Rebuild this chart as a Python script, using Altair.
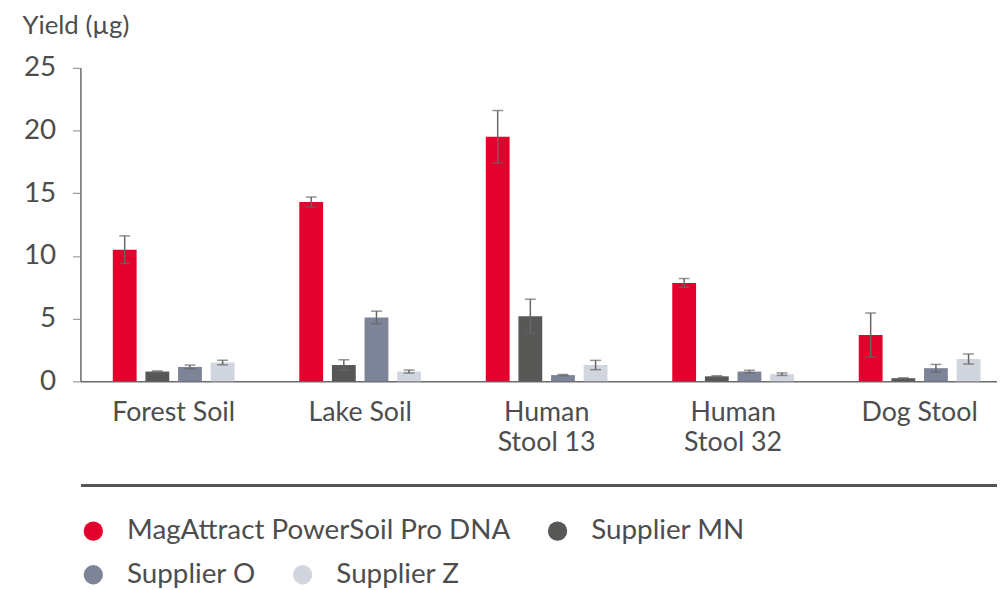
import altair as alt
import pandas as pd

categories = ["Forest Soil", "Lake Soil", "Human\nStool 13", "Human\nStool 32", "Dog Stool"]
series = ["MagAttract PowerSoil Pro DNA", "Supplier MN", "Supplier O", "Supplier Z"]
colors = ["#E3002C", "#575756", "#7E8498", "#D1D5DE"]

magattract = [10.5, 14.3, 19.5, 7.85, 3.7]
magattract_err = [1.1, 0.4, 2.1, 0.35, 1.75]
supplier_mn = [0.78, 1.3, 5.2, 0.4, 0.25]
supplier_mn_err = [0.05, 0.42, 1.35, 0.05, 0.03]
supplier_o = [1.15, 5.1, 0.5, 0.78, 1.05]
supplier_o_err = [0.15, 0.5, 0.05, 0.1, 0.3]
supplier_z = [1.5, 0.78, 1.3, 0.57, 1.78]
supplier_z_err = [0.18, 0.12, 0.37, 0.1, 0.4]

y_ticks = [0, 5, 10, 15, 20, 25]

vals = [magattract, supplier_mn, supplier_o, supplier_z]
errs = [magattract_err, supplier_mn_err, supplier_o_err, supplier_z_err]
rows = []
for s, v, e in zip(series, vals, errs):
    for c, vi, ei in zip(categories, v, e):
        rows.append({"sample": c, "series": s, "yield": vi, "lo": vi - ei, "hi": vi + ei})
df = pd.DataFrame(rows)

FONT = "Lato"
TXT = "#4d4d4d"
ERR = "#666666"

x_enc = alt.X("sample:N", sort=categories, title=None,
              scale=alt.Scale(range=[0, 940], paddingInner=0.3, paddingOuter=0.15),
              axis=alt.Axis(labelAngle=0, ticks=False, domainColor="#6b6b6b", domainWidth=1.5,
                            labelFont=FONT, labelFontSize=27, labelColor=TXT, labelPadding=18,
                            labelLineHeight=31, labelBaseline="top",
                            labelExpr="split(datum.label, '\\n')"))
xo_enc = alt.XOffset("series:N", sort=series,
                     scale=alt.Scale(domain=series, paddingInner=0.27, paddingOuter=0.135))
y_enc = alt.Y("yield:Q", scale=alt.Scale(domain=[0, 25], nice=False),
              axis=alt.Axis(values=y_ticks, grid=False, domainColor="#6b6b6b", domainWidth=1.5,
                            tickColor="#9a9a9a", tickSize=8, tickWidth=1.2,
                            labelFont=FONT, labelFontSize=28, labelColor=TXT, labelPadding=17,
                            title="Yield (µg)", titleAngle=0, titleAlign="left", titleBaseline="middle",
                            titleX=-59, titleY=-43, titleFont=FONT, titleFontSize=26,
                            titleFontWeight="normal", titleColor=TXT))


def legend(y):
    return alt.Legend(orient="none", legendX=-1, legendY=y, direction="horizontal",
                      title=None, symbolType="circle", symbolSize=380, symbolStrokeWidth=0,
                      symbolOpacity=1, labelFont=FONT, labelFontSize=28, labelColor=TXT,
                      labelOffset=20, columnPadding=33, labelLimit=600)


row1 = series[:2]
row2 = series[2:]

bars1 = alt.Chart(df).transform_filter(
    alt.FieldOneOfPredicate(field="series", oneOf=row1)
).mark_bar().encode(
    x=x_enc, xOffset=xo_enc, y=y_enc,
    color=alt.Color("series:N", sort=row1, scale=alt.Scale(domain=row1, range=colors[:2]),
                    legend=legend(453)),
)
bars2 = alt.Chart(df).transform_filter(
    alt.FieldOneOfPredicate(field="series", oneOf=row2)
).mark_bar().encode(
    x=x_enc, xOffset=xo_enc, y=y_enc,
    color=alt.Color("series:N", sort=row2, scale=alt.Scale(domain=row2, range=colors[2:]),
                    legend=legend(497)),
)

err = alt.Chart(df).mark_rule(color=ERR, strokeWidth=1.5).encode(
    x=alt.X("sample:N", sort=categories), xOffset=xo_enc,
    y="lo:Q", y2="hi:Q")
cap_lo = alt.Chart(df).mark_tick(color=ERR, thickness=1.5, size=11).encode(
    x=alt.X("sample:N", sort=categories), xOffset=xo_enc, y="lo:Q")
cap_hi = alt.Chart(df).mark_tick(color=ERR, thickness=1.5, size=11).encode(
    x=alt.X("sample:N", sort=categories), xOffset=xo_enc, y="hi:Q")

sep = alt.Chart(df).mark_rule(color="#555555", strokeWidth=1.5).encode(
    x=alt.value(1), x2=alt.value(940), y=alt.value(421))

chart = alt.layer(bars1, bars2, err, cap_lo, cap_hi, sep).resolve_scale(
    color="independent"
).properties(
    width=924, height=316,
    autosize=alt.AutoSizeParams(type="none"),
    padding={"left": 73, "top": 58, "right": 0, "bottom": 208},
).configure_view(stroke=None)

chart.save("out.html", embed_options={"renderer": "svg", "actions": False})
